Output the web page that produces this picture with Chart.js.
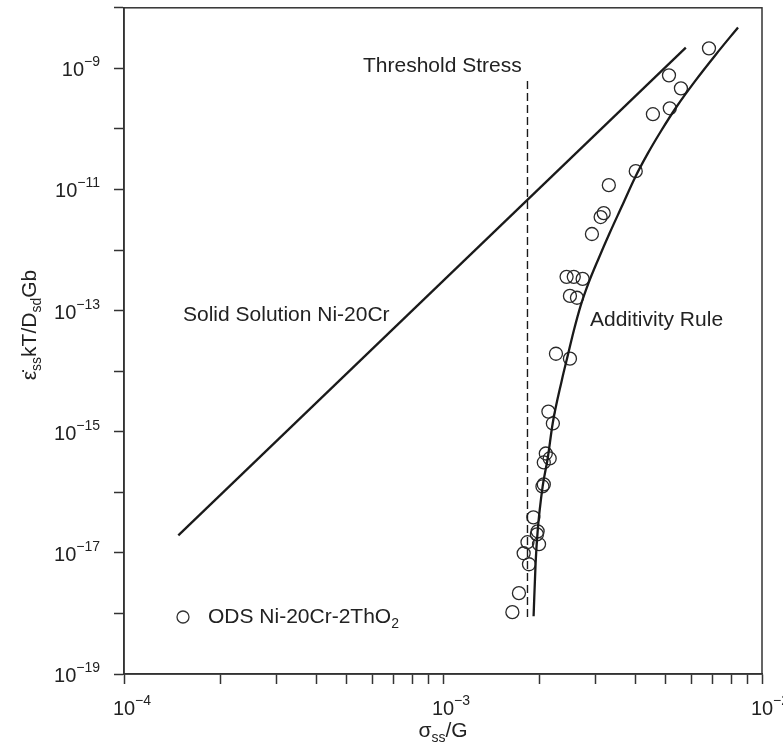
<!DOCTYPE html>
<html>
<head>
<meta charset="utf-8">
<script src="https://cdn.jsdelivr.net/npm/chart.js@4.4.1/dist/chart.umd.min.js"></script>
<style>
body{margin:0;background:#fff}
</style>
</head>
<body>
<canvas id="c" width="783" height="747"></canvas>
<script>
// axis ranges and ticks
const xRange = [1e-4, 1e-2];
const yRange = [1e-19, 1e-8];
const xTicks = [1e-4,2e-4,3e-4,4e-4,5e-4,6e-4,7e-4,8e-4,9e-4,1e-3,2e-3,3e-3,4e-3,5e-3,6e-3,7e-3,8e-3,9e-3,1e-2];
const yTicks = [1e-19,1e-18,1e-17,1e-16,1e-15,1e-14,1e-13,1e-12,1e-11,1e-10,1e-9,1e-8];
const xLabelExp = [-4, -3, -2];
const yLabelExp = [-19, -17, -15, -13, -11, -9];

// ODS Ni-20Cr-2ThO2 measurements
const odsX = [2.14e-3,2.21e-3,2.10e-3,2.16e-3,2.07e-3,2.07e-3,2.05e-3,1.92e-3,1.98e-3,1.97e-3,2.00e-3,1.84e-3,1.79e-3,1.86e-3,1.73e-3,1.65e-3,
              4.02e-3,3.31e-3,3.19e-3,3.12e-3,2.93e-3,2.44e-3,2.57e-3,2.74e-3,2.50e-3,2.63e-3,2.26e-3,2.50e-3,
              6.82e-3,5.11e-3,5.57e-3,5.14e-3,4.55e-3];
const odsY = [2.15e-15,1.37e-15,4.37e-16,3.62e-16,3.11e-16,1.35e-16,1.25e-16,3.86e-17,2.27e-17,2.02e-17,1.39e-17,1.50e-17,9.85e-18,6.49e-18,2.16e-18,1.05e-18,
              2.01e-11,1.18e-11,4.08e-12,3.51e-12,1.84e-12,3.61e-13,3.61e-13,3.34e-13,1.75e-13,1.63e-13,1.94e-14,1.61e-14,
              2.14e-9,7.67e-10,4.68e-10,2.19e-10,1.75e-10];

// solid solution Ni-20Cr
const solidX = [1.48e-4, 5.77e-3];
const solidY = [1.95e-17, 2.2e-9];

// additivity rule
const addX = [1.923e-3,1.951e-3,1.980e-3,2.053e-3,2.129e-3,2.207e-3,2.356e-3,2.46e-3,2.57e-3,2.70e-3,2.86e-3,3.08e-3,3.33e-3,3.64e-3,3.99e-3,4.39e-3,4.82e-3,5.41e-3,6.16e-3,7.17e-3,8.41e-3];
const addY = [9.0e-19,6.7e-18,2.27e-17,1.25e-16,3.62e-16,1.37e-15,6.97e-15,1.80e-14,4.65e-14,1.20e-13,2.87e-13,7.41e-13,1.91e-12,5.33e-12,1.54e-11,3.98e-11,9.16e-11,2.37e-10,6.11e-10,1.70e-9,4.74e-9];

// threshold stress
const threshX = [1.84e-3, 1.84e-3];
const threshY = [8.7e-19, 6.6e-10];

const FONT = '"Liberation Sans", Arial, Helvetica, sans-serif';
const INK = '#222';

const pts = (xs, ys) => xs.map((x, i) => ({x, y: ys[i]}));

function rich(ctx, parts, x, y, align) {
  let total = 0;
  parts.forEach(p => { ctx.font = p[1] + 'px ' + FONT; p.w = ctx.measureText(p[0]).width; total += p.w; });
  let cx = align === 'center' ? x - total / 2 : align === 'right' ? x - total : x;
  ctx.textAlign = 'left';
  ctx.textBaseline = 'alphabetic';
  parts.forEach(p => {
    ctx.font = p[1] + 'px ' + FONT;
    ctx.fillText(p[0], cx, y + (p[2] || 0));
    cx += p.w;
  });
}

const decor = {
  id: 'decor',
  afterDraw(chart) {
    const ctx = chart.ctx, a = chart.chartArea;
    const sx = chart.scales.x, sy = chart.scales.y;
    ctx.save();
    ctx.strokeStyle = '#333';
    ctx.lineWidth = 1.5;
    ctx.strokeRect(a.left, a.top, a.right - a.left, a.bottom - a.top);
    ctx.fillStyle = INK;

    xLabelExp.forEach(e => {
      const px = sx.getPixelForValue(Number('1e' + e));
      ctx.font = '20px ' + FONT;
      const bw = ctx.measureText('10').width;
      rich(ctx, [['10', 20], ['\u2212' + Math.abs(e), 14, -10]], px - bw / 2, a.bottom + 41, 'left');
    });
    yLabelExp.forEach(e => {
      const py = sy.getPixelForValue(Number('1e' + e));
      rich(ctx, [['10', 20], ['\u2212' + Math.abs(e), 14, -10]], a.left - 24, py + 8, 'right');
    });

    // axis titles
    rich(ctx, [['\u03c3', 21], ['ss', 14, 5], ['/G', 21]], (a.left + a.right) / 2, 737, 'center');
    ctx.save();
    ctx.translate(29, 325);
    ctx.rotate(-Math.PI / 2);
    rich(ctx, [['\u03b5\u0307', 21], ['ss', 14, 5], ['kT/D', 21], ['sd', 14, 5], ['Gb', 21]], 0, 7, 'center');
    ctx.restore();

    // annotations
    rich(ctx, [['Threshold Stress', 21]], 363, 72, 'left');
    rich(ctx, [['Solid Solution Ni-20Cr', 21]], 183, 321, 'left');
    rich(ctx, [['Additivity Rule', 21]], 590, 326, 'left');

    // legend
    ctx.beginPath();
    ctx.lineWidth = 1.3;
    ctx.arc(183, 617, 6, 0, Math.PI * 2);
    ctx.stroke();
    rich(ctx, [['ODS Ni-20Cr-2ThO', 21], ['2', 14, 5]], 208, 623, 'left');
    ctx.restore();
  }
};

const axisCommon = {
  type: 'logarithmic',
  grid: { drawOnChartArea: false, drawTicks: true, tickLength: 10, color: '#333', tickWidth: 1.5 },
  border: { display: true, color: '#333', width: 1.5 },
  ticks: { display: false }
};

new Chart(document.getElementById('c'), {
  type: 'scatter',
  data: {
    datasets: [
      { data: pts(solidX, solidY), showLine: true, borderColor: '#1a1a1a', borderWidth: 2.3, pointRadius: 0 },
      { data: pts(addX, addY), showLine: true, borderColor: '#1a1a1a', borderWidth: 2.3, pointRadius: 0, cubicInterpolationMode: 'monotone' },
      { data: pts(threshX, threshY), showLine: true, borderColor: '#1a1a1a', borderWidth: 1.4, borderDash: [8, 4], pointRadius: 0 },
      { data: pts(odsX, odsY), showLine: false, pointRadius: 6.5, pointBorderWidth: 1.3, pointBorderColor: '#2a2a2a', pointBackgroundColor: 'rgba(0,0,0,0)' }
    ]
  },
  options: {
    responsive: false,
    animation: false,
    layout: { padding: { left: 114, right: 21, top: 6, bottom: 63 } },
    plugins: { legend: { display: false }, tooltip: { enabled: false } },
    scales: {
      x: Object.assign({}, axisCommon, { min: xRange[0], max: xRange[1],
        afterBuildTicks: s => { s.ticks = xTicks.map(v => ({ value: v })); } }),
      y: Object.assign({}, axisCommon, { min: yRange[0], max: yRange[1],
        afterBuildTicks: s => { s.ticks = yTicks.map(v => ({ value: v })); } })
    }
  },
  plugins: [decor]
});
</script>
</body>
</html>
